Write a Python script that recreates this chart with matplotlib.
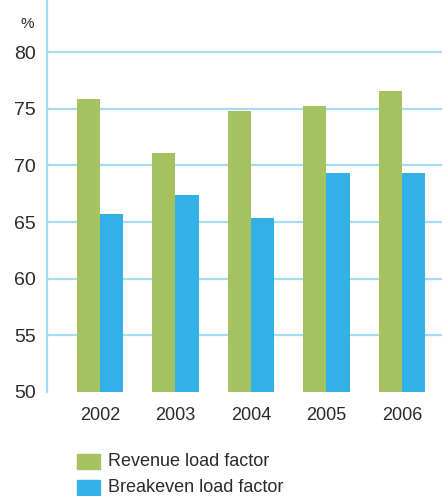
import matplotlib
matplotlib.use("Agg")
import matplotlib.pyplot as plt
import numpy as np
from matplotlib.patches import Rectangle

years = ["2002", "2003", "2004", "2005", "2006"]
revenue_load = [75.9, 71.1, 74.8, 75.2, 76.6]
breakeven_load = [65.7, 67.4, 65.4, 69.3, 69.3]
yticks = [50, 55, 60, 65, 70, 75, 80]

green = "#a5c261"
blue = "#33b0e6"
grid_col = "#a6dcf4"
text_col = "#2a2a2a"

plt.rcParams["font.family"] = ["Liberation Sans", "DejaVu Sans"]

W, H = 442, 496
fig = plt.figure(figsize=(W / 100, H / 100), dpi=100)
ax = fig.add_axes([47 / W, 1 - 392 / H, (W - 47) / W, 392 / H])

x = np.arange(len(years))
bw = 0.305
ax.bar(x - bw / 2, revenue_load, width=bw, color=green, zorder=2)
ax.bar(x + bw / 2, breakeven_load, width=bw, color=blue, zorder=2)

ax.set_ylim(50, 84.6)
ax.set_xlim(-0.702, 4.53)

for v in yticks[1:]:
    ax.axhline(v, color=grid_col, lw=1.6, zorder=1)

for s in ["top", "right", "bottom"]:
    ax.spines[s].set_visible(False)
ax.spines["left"].set_color(grid_col)
ax.spines["left"].set_linewidth(1.6)

ax.set_yticks(yticks)
ax.set_yticklabels([str(v) for v in yticks], fontsize=14, color=text_col)
ax.tick_params(axis="y", length=0, pad=8)
ax.set_xticks(x)
ax.set_xticklabels(years, fontsize=13, color=text_col)
ax.tick_params(axis="x", length=0, pad=11)

fig.text(34 / W, 1 - 24 / H, "%", fontsize=11, color=text_col,
         ha="right", va="center")

# legend
labels = ["Revenue load factor", "Breakeven load factor"]
colors = [green, blue]
for i, (lab, c) in enumerate(zip(labels, colors)):
    y0 = 454 + i * 26
    fig.patches.append(Rectangle((77 / W, 1 - (y0 + 15) / H), 23 / W, 15 / H,
                                 transform=fig.transFigure, color=c))
    fig.text(108 / W, 1 - (y0 + 8) / H, lab, fontsize=13, color=text_col,
             ha="left", va="center")

fig.savefig("out.png", dpi=100)
